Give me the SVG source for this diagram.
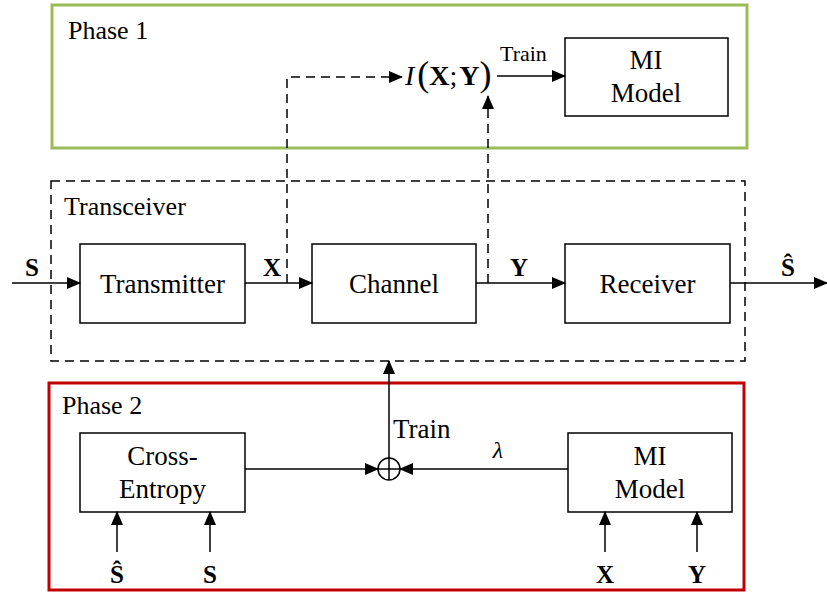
<svg xmlns="http://www.w3.org/2000/svg" width="827" height="595" viewBox="0 0 827 595">
<style>
text{font-family:'Liberation Serif','Times New Roman',serif}
.lbl{font-size:27px}
.ph{font-size:26px}
.b{font-size:25px;font-weight:bold}
.box{fill:#fff;stroke:#000;stroke-width:1.5}
.ln{fill:none;stroke:#000;stroke-width:1.5}
.dash{fill:none;stroke:#000;stroke-width:1.5;stroke-dasharray:9,6}
</style>
<defs>
<marker id="ah" markerWidth="14" markerHeight="12" refX="13" refY="6" orient="auto" markerUnits="userSpaceOnUse">
<path d="M0,0 L14,6 L0,12 Z" fill="#000"/>
</marker>
</defs>
<rect width="827" height="595" fill="#fff"/>

<g id="phase1">
<rect x="52" y="5" width="695" height="143" fill="none" stroke="#9bbb59" stroke-width="3"/>
<text class="ph" x="68" y="39">Phase 1</text>
</g>
<g id="transceiver">
<rect x="51" y="181" width="694" height="180" fill="none" stroke="#000" stroke-width="1.5" stroke-dasharray="9,6"/>
<text class="ph" x="64" y="215">Transceiver</text>
</g>
<g id="phase2">
<rect x="49" y="383" width="695" height="207" fill="none" stroke="#c00000" stroke-width="3"/>
<text class="ph" x="62" y="414">Phase 2</text>
</g>

<g id="mi-top">
<rect class="box" x="565" y="38" width="163" height="78"/>
<text class="lbl" x="646" y="69" text-anchor="middle">MI</text>
<text class="lbl" x="646" y="102" text-anchor="middle">Model</text>
</g>
<g id="mi-expr">
<text x="405" y="85" font-size="28"><tspan font-style="italic">I</tspan><tspan dx="3" font-size="36" dy="1">(</tspan><tspan font-weight="bold" dy="-1">X</tspan>;<tspan dx="2" font-weight="bold">Y</tspan><tspan font-size="36" dy="1">)</tspan></text>
</g>
<g id="transmitter">
<rect class="box" x="80" y="244" width="165" height="79"/>
<text class="lbl" x="162.5" y="293" text-anchor="middle">Transmitter</text>
</g>
<g id="channel">
<rect class="box" x="312" y="244" width="164" height="79"/>
<text class="lbl" x="394" y="293" text-anchor="middle">Channel</text>
</g>
<g id="receiver">
<rect class="box" x="565" y="244" width="165" height="79"/>
<text class="lbl" x="647.5" y="293" text-anchor="middle">Receiver</text>
</g>
<g id="cross-entropy">
<rect class="box" x="80" y="433" width="165" height="79"/>
<text class="lbl" x="162.5" y="465" text-anchor="middle">Cross-</text>
<text class="lbl" x="162.5" y="498" text-anchor="middle">Entropy</text>
</g>
<g id="mi-bottom">
<rect class="box" x="568" y="433" width="164" height="79"/>
<text class="lbl" x="650" y="465" text-anchor="middle">MI</text>
<text class="lbl" x="650" y="498" text-anchor="middle">Model</text>
</g>
<g id="sum">
<circle cx="389" cy="469" r="11" fill="#fff" stroke="#000" stroke-width="1.5"/>
<path class="ln" d="M378,469 H400 M389,458 V480"/>
</g>

<g id="connectors">
<path class="dash" d="M287,283 V77 H402" marker-end="url(#ah)"/>
<path class="dash" d="M488,283 V96" marker-end="url(#ah)"/>
<path class="ln" d="M497,76 H565" marker-end="url(#ah)"/>
<path class="ln" d="M12,283 H80" marker-end="url(#ah)"/>
<path class="ln" d="M245,283 H312" marker-end="url(#ah)"/>
<path class="ln" d="M476,283 H565" marker-end="url(#ah)"/>
<path class="ln" d="M730,283 H827" marker-end="url(#ah)"/>
<path class="ln" d="M245,469 H378" marker-end="url(#ah)"/>
<path class="ln" d="M568,469 H400" marker-end="url(#ah)"/>
<path class="ln" d="M389,458 V361" marker-end="url(#ah)"/>
<path class="ln" d="M117,552 V512" marker-end="url(#ah)"/>
<path class="ln" d="M210,552 V512" marker-end="url(#ah)"/>
<path class="ln" d="M605,552 V512" marker-end="url(#ah)"/>
<path class="ln" d="M697,552 V512" marker-end="url(#ah)"/>
</g>

<g id="labels">
<text x="500" y="61" font-size="22">Train</text>
<text class="b" x="32" y="276" text-anchor="middle">S</text>
<text class="b" x="272" y="276" text-anchor="middle">X</text>
<text class="b" x="519" y="276" text-anchor="middle">Y</text>
<text class="b" x="788" y="276" text-anchor="middle">Ŝ</text>
<text class="lbl" x="393" y="438">Train</text>
<text x="498" y="458" font-size="24" font-style="italic" text-anchor="middle">λ</text>
<text class="b" x="117" y="583" text-anchor="middle">Ŝ</text>
<text class="b" x="210" y="583" text-anchor="middle">S</text>
<text class="b" x="605" y="583" text-anchor="middle">X</text>
<text class="b" x="697" y="583" text-anchor="middle">Y</text>
</g>
</svg>
